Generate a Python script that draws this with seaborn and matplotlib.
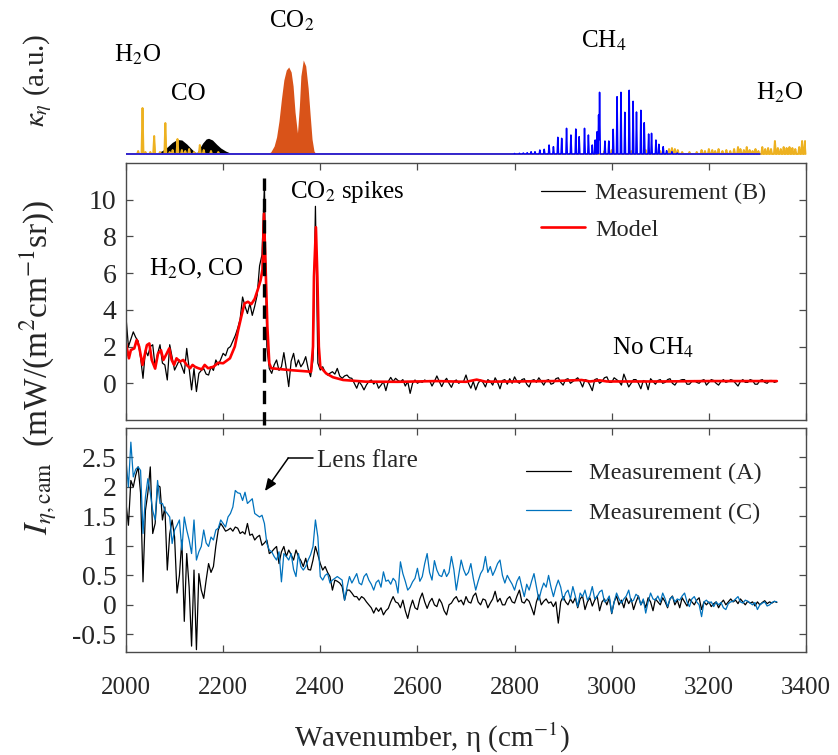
import numpy as np
import matplotlib
matplotlib.use("Agg")
import matplotlib.pyplot as plt
import seaborn as sns

# ---------------- data ----------------
meas_wn = np.arange(2000, 3341, 5)

meas_B = [3.6, 2.0, 2.4, 2.8, 2.5, 2.3, 1.4, 0.27, 1.8, 1.5, 2.0, 2.1, 0.9, 1.6, 2.1, 1.1, 1.0, 0.18, 2.1, 1.4,
          0.72, 1.0, 1.27, 0.9, 0.54, 1.9, 0.8, -0.36, 0.8, -0.45, 0.54, 0.7, 0.8, 0.5, 0.45, 0.9, 0.7, 1.27, 1.0, 1.3,
          1.63, 1.5, 1.9, 2.0, 2.3, 2.6, 3.0, 3.5, 4.7, 4.2, 3.8, 4.35, 3.7, 4.2, 4.8, 6.4, 7.0, 10.8, 2.0, 0.8,
          0.54, 1.0, 1.27, 0.7, 0.9, 1.67, 0.8, -0.18, 1.2, 1.63, 0.9, 1.27, 0.9, 1.1, 1.45, 0.8, 0.36, 1.27, 9.64, 1.1,
          0.72, 0.9, 0.6, 0.45, 0.55, 0.63, 0.5, 0.81, 0.4, 0.27, 0.4, 0.45, 0.3, 0.27, 0.0, -0.27, 0.09, -0.1, -0.36, -0.09,
          0.1, 0.18, -0.04, 0.1, -0.27, -0.1, 0.09, -0.4, 0.1, 0.32, 0.1, 0.27, 0.15, 0.09, 0.2, -0.15, 0.1, -0.55, 0.0, 0.18,
          0.0, 0.09, 0.05, 0.18, 0.1, 0.15, -0.15, 0.1, 0.4, 0.1, -0.18, 0.1, 0.27, 0.0, -0.22, 0.1, 0.18, 0.0, 0.09, 0.1,
          0.45, 0.0, -0.27, 0.1, -0.36, 0.0, 0.18, 0.05, -0.2, 0.2, 0.1, -0.1, 0.3, 0.05, -0.3, 0.15, 0.2, -0.05, 0.25, 0.0,
          0.35, 0.1, 0.0, 0.2, 0.25, -0.05, -0.2, 0.15, 0.2, 0.05, 0.3, 0.1, -0.1, 0.15, 0.2, -0.05, 0.0, 0.25, 0.3, 0.05,
          -0.1, 0.2, 0.25, 0.0, 0.1, 0.2, 0.3, 0.1, -0.2, 0.2, 0.15, -0.1, -0.4, 0.2, 0.25, 0.0, 0.1, 0.3, 0.35, 0.05,
          0.05, 0.3, 0.2, 0.1, -0.1, 0.5, 0.15, -0.2, 0.0, 0.2, 0.2, 0.0, -0.3, 0.15, 0.1, -0.35, 0.25, 0.1, -0.05, 0.15,
          0.2, 0.0, 0.05, 0.2, 0.25, 0.0, -0.1, 0.1, 0.15, 0.2, 0.2, -0.05, -0.05, 0.1, 0.15, 0.05, 0.0, 0.15, 0.2, -0.1,
          0.05, 0.2, 0.15, 0.0, -0.1, 0.1, 0.2, 0.05, 0.1, 0.2, 0.15, 0.0, -0.15, 0.1, 0.2, 0.05, 0.05, 0.2, 0.15, -0.05,
          -0.05, 0.15, 0.2, 0.05, 0.0, 0.15, 0.15, 0.05, 0.1]

meas_A = [1.72, 1.35, 2.11, 2.0, 2.2, 2.34, 1.9, 0.39, 1.6, 1.9, 2.34, 1.21, 1.38, 2.03, 2.0, 1.44, 1.66, 0.59, 1.2, 1.44,
          1.15, 0.2, 0.5, 1.1, -0.28, 0.87, 0.3, -0.7, 0.59, -0.76, 0.53, 0.25, 0.11, 0.42, 0.7, 0.55, 0.65, 1.0, 1.27, 1.38,
          1.32, 1.25, 1.27, 1.3, 1.25, 1.32, 1.3, 1.21, 1.24, 1.2, 1.38, 1.18, 1.2, 1.1, 1.15, 1.18, 1.01, 1.05, 1.1, 0.87,
          0.9, 0.95, 0.99, 0.7, 0.9, 0.99, 0.82, 0.93, 0.85, 0.76, 0.93, 0.82, 0.75, 0.65, 0.79, 0.6, 0.59, 0.76, 0.99, 0.85,
          0.7, 0.59, 0.65, 0.55, 0.48, 0.25, 0.42, 0.4, 0.37, 0.31, 0.08, 0.25, 0.25, 0.2, 0.14, 0.14, 0.08, 0.14, 0.11, 0.05,
          0.0, -0.05, -0.14, -0.05, -0.11, -0.05, -0.17, -0.1, -0.06, 0.05, 0.14, 0.05, 0.03, -0.05, 0.08, -0.1, -0.23, -0.05, 0.08, -0.05,
          -0.08, 0.1, 0.2, 0.05, -0.06, 0.05, 0.11, 0.0, -0.03, 0.1, 0.03, -0.1, -0.17, 0.0, 0.03, 0.1, 0.14, 0.05, 0.08, 0.0,
          0.14, 0.05, 0.03, 0.15, 0.2, 0.05, 0.0, 0.1, 0.08, -0.05, 0.03, 0.1, 0.23, 0.05, 0.11, 0.0, 0.0, 0.1, 0.14, 0.05,
          0.03, 0.15, 0.25, 0.05, 0.03, 0.1, 0.06, -0.05, -0.17, 0.05, 0.17, 0.0, 0.06, 0.1, 0.03, 0.05, -0.03, 0.05, -0.31, 0.05,
          0.14, 0.05, 0.0, 0.1, 0.03, 0.12, -0.05, 0.1, 0.15, -0.08, 0.05, 0.12, -0.02, 0.08, 0.15, -0.1, 0.05, 0.1, 0.0, 0.12,
          -0.15, 0.05, 0.15, 0.0, 0.08, -0.05, 0.12, 0.02, 0.1, -0.08, 0.05, 0.15, 0.0, 0.08, -0.05, 0.12, 0.05, -0.1, 0.1, 0.05,
          0.0, 0.12, 0.05, -0.05, 0.1, 0.15, 0.0, 0.08, -0.05, 0.12, 0.05, -0.02, 0.1, 0.05, 0.0, 0.08, 0.12, -0.08, 0.05, 0.0,
          0.05, -0.03, 0.02, 0.05, -0.05, 0.03, 0.08, 0.0, 0.05, 0.1, 0.05, 0.08, 0.02, 0.1, 0.05, 0.0, 0.06, 0.03, 0.05, -0.02,
          0.05, 0.0, 0.04, 0.07, 0.02, 0.05, 0.03, 0.06, 0.04]

meas_C = [2.45, 2.0, 2.76, 2.17, 2.3, 2.34, 2.28, 1.21, 1.83, 2.14, 1.9, 1.6, 1.44, 2.11, 1.72, 1.72, 1.6, 1.55, 1.49, 1.04,
          1.27, 1.35, 1.44, 0.93, 1.49, 1.27, 1.1, 0.87, 1.44, 0.76, 0.9, 0.99, 1.27, 1.05, 0.99, 1.15, 1.1, 1.27, 1.3, 1.44,
          1.38, 1.32, 1.49, 1.55, 1.66, 1.94, 1.9, 1.89, 1.77, 1.91, 1.72, 1.76, 1.8, 1.55, 1.52, 1.49, 1.52, 1.38, 1.04, 0.93,
          0.9, 0.82, 0.76, 0.9, 0.39, 0.87, 0.82, 0.76, 0.87, 0.6, 0.48, 0.87, 0.65, 0.59, 0.65, 0.76, 0.85, 0.99, 1.44, 1.15,
          0.48, 0.42, 0.5, 0.53, 0.37, 0.42, 0.45, 0.48, 0.45, 0.42, 0.08, 0.3, 0.48, 0.37, 0.45, 0.53, 0.37, 0.34, 0.48, 0.53,
          0.42, 0.35, 0.25, 0.38, 0.42, 0.3, 0.56, 0.4, 0.42, 0.35, 0.45, 0.4, 0.2, 0.73, 0.53, 0.4, 0.25, 0.3, 0.39, 0.45,
          0.62, 0.4, 0.48, 0.7, 0.87, 0.55, 0.42, 0.75, 0.59, 0.5, 0.48, 0.6, 0.48, 0.55, 0.82, 0.6, 0.25, 0.5, 0.76, 0.6,
          0.5, 0.55, 0.7, 0.45, 0.25, 0.4, 0.53, 0.6, 0.82, 0.55, 0.65, 0.5, 0.59, 0.7, 0.76, 0.5, 0.37, 0.5, 0.42, 0.35,
          0.25, 0.4, 0.48, 0.3, 0.14, 0.35, 0.25, 0.4, 0.53, 0.3, 0.08, 0.25, 0.37, 0.3, 0.5, 0.3, 0.14, 0.3, 0.42, 0.3,
          0.08, 0.2, 0.25, 0.1, 0.31, 0.15, -0.03, 0.2, 0.14, 0.25, 0.08, 0.15, 0.31, 0.1, 0.14, 0.22, 0.25, 0.05, 0.08, 0.15,
          -0.14, 0.05, 0.2, 0.1, 0.03, 0.1, 0.15, 0.25, 0.05, 0.08, 0.18, 0.14, 0.0, 0.1, -0.14, 0.05, 0.2, 0.1, 0.08, 0.15,
          0.05, 0.2, 0.1, -0.03, 0.1, 0.14, 0.05, 0.1, 0.08, 0.15, 0.2, 0.05, -0.03, 0.1, 0.14, 0.05, 0.0, -0.2, 0.05, 0.08,
          0.03, 0.05, -0.03, 0.05, 0.0, 0.04, -0.05, -0.08, 0.02, 0.05, 0.06, 0.1, 0.14, 0.05, 0.03, 0.08, 0.06, 0.03, 0.0, 0.04,
          -0.08, 0.0, 0.03, 0.05, -0.02, 0.0, 0.04, 0.06, 0.05]

model_wn = [2000, 2006, 2010, 2017, 2022, 2027, 2034, 2043, 2048, 2053, 2060, 2066, 2072, 2077, 2084,
            2089, 2094, 2099, 2104, 2111, 2118, 2125, 2132, 2137, 2142, 2149, 2156, 2162, 2169, 2180,
            2190, 2200, 2214, 2224, 2231, 2238, 2244, 2251, 2258, 2265, 2272, 2277, 2281, 2284, 2287,
            2291, 2295, 2299, 2337, 2381, 2385, 2387, 2391, 2394, 2397, 2400, 2412, 2426, 2447, 2493,
            2560, 2640, 2700, 2722, 2740, 2800, 2880, 2938, 2955, 2975, 2990, 3100, 3200, 3340]
model_val = [2.17, 1.36, 1.81, 1.9, 2.36, 2.0, 1.0, 2.08, 2.17, 1.27, 0.8, 1.63, 1.8, 1.27, 1.63,
             1.9, 1.27, 1.0, 1.36, 1.18, 1.27, 1.0, 0.82, 1.0, 0.9, 0.82, 0.76, 1.0, 0.82, 0.9,
             1.12, 1.09, 1.36, 2.0, 2.9, 3.7, 4.35, 4.44, 4.31, 4.6, 5.16, 5.6, 6.2, 9.24, 6.7,
             3.1, 1.09, 0.82, 0.72, 0.63, 2.0, 5.8, 8.5, 5.8, 2.0, 0.9, 0.54, 0.33, 0.18, 0.09,
             0.08, 0.12, 0.08, 0.2, 0.09, 0.1, 0.12, 0.18, 0.1, 0.16, 0.1, 0.1, 0.12, 0.12]

# absorption coefficient (a.u.)
co2_wn = [2290, 2298, 2305, 2310, 2315, 2320, 2325, 2330, 2335, 2340, 2344, 2348, 2353, 2357, 2360, 2365, 2370, 2375, 2379, 2383, 2387, 2391]
co2_k = [0, 0.02, 0.08, 0.17, 0.33, 0.55, 0.74, 0.84, 0.87, 0.82, 0.68, 0.42, 0.21, 0.48, 0.78, 0.94, 0.88, 0.66, 0.4, 0.15, 0.03, 0]
co_wn = [2055, 2063, 2075, 2085, 2095, 2105, 2115, 2125, 2135, 2142, 2146, 2150, 2158, 2165, 2170, 2178, 2187, 2195, 2205, 2215, 2222]
co_k = [0, 0.007, 0.035, 0.07, 0.115, 0.145, 0.14, 0.1, 0.05, 0.018, 0.015, 0.045, 0.11, 0.15, 0.157, 0.14, 0.095, 0.06, 0.03, 0.009, 0]
ch4_lines = [2800, 2810, 2818, 2826, 2834, 2842, 2852, 2861, 2871, 2880, 2889, 2897, 2907, 2916, 2926, 2933, 2944, 2952, 2960, 2966, 2970,
             2973, 2975, 2986, 2994, 3003, 3011, 3019, 3027, 3036, 3044, 3051, 3060, 3067, 3076, 3082, 3091, 3097, 3106, 3113, 3124, 3135]
ch4_k = [0.005, 0.007, 0.01, 0.013, 0.023, 0.023, 0.04, 0.047, 0.09, 0.073, 0.167, 0.157, 0.257, 0.19, 0.25, 0.173, 0.257, 0.19, 0.09, 0.14, 0.223,
         0.39, 0.617, 0.13, 0.13, 0.247, 0.573, 0.617, 0.417, 0.637, 0.527, 0.42, 0.437, 0.313, 0.2, 0.207, 0.14, 0.097, 0.073, 0.033, 0.023, 0.01]
h2o_lines = [2025, 2034, 2040, 2050, 2058, 2070, 2081, 2090, 2096, 2106, 2115, 2122, 2130, 2140, 2152, 2160, 2175, 2190,
             2985, 3000, 3040, 3070, 3100, 3118, 3124, 3130, 3136, 3145, 3160, 3175, 3185, 3192, 3200, 3207, 3213, 3220, 3228,
             3236, 3244, 3252, 3260, 3265, 3272, 3278, 3284, 3290, 3296, 3302, 3310, 3316, 3322, 3328, 3336, 3342, 3348, 3354,
             3360, 3366, 3372, 3378, 3386, 3392, 3398, 3403]
h2o_k = [0.03, 0.46, 0.02, 0.02, 0.18, 0.02, 0.31, 0.02, 0.04, 0.15, 0.04, 0.03, 0.05, 0.02, 0.09, 0.04, 0.03, 0.02,
         0.03, 0.04, 0.03, 0.04, 0.03, 0.05, 0.06, 0.05, 0.04, 0.02, 0.02, 0.02, 0.04, 0.03, 0.05, 0.04, 0.03, 0.05, 0.03,
         0.04, 0.03, 0.05, 0.07, 0.05, 0.04, 0.07, 0.04, 0.03, 0.05, 0.03, 0.07, 0.05, 0.06, 0.05, 0.13, 0.06, 0.05, 0.07,
         0.06, 0.07, 0.06, 0.05, 0.07, 0.13, 0.13, 0.12]

co2_edge_wn = 2284
x_ticks = [2000, 2200, 2400, 2600, 2800, 3000, 3200, 3400]
mid_yticks = [0, 2, 4, 6, 8, 10]
bot_yticks = [-0.5, 0, 0.5, 1, 1.5, 2, 2.5]

# ---------------- style ----------------
sns.set_theme(style="ticks")
SERIF = ["Liberation Serif", "DejaVu Serif"]
plt.rcParams["font.family"] = SERIF
plt.rcParams["font.serif"] = SERIF
plt.rcParams["mathtext.fontset"] = "stix"
plt.rcParams["axes.unicode_minus"] = False

W, H = 838, 755
fig = plt.figure(figsize=(W / 100, H / 100), dpi=100)


def rect(left, top, right, bottom):
    return [left / W, 1 - bottom / H, (right - left) / W, (bottom - top) / H]


ax_top = fig.add_axes(rect(126, 8, 806, 156))
ax_mid = fig.add_axes(rect(126, 163, 806, 420))
ax_bot = fig.add_axes(rect(126, 428, 806, 652))

SP = "#4a4a4a"

# ---------------- top panel ----------------
grid = np.arange(2000, 3405.01, 0.25)


def line_profile(xg, centers, heights, hw):
    prof = np.zeros_like(xg)
    for c, h in zip(centers, heights):
        prof = np.maximum(prof, h * np.clip(1 - np.abs(xg - c) / hw, 0, None))
    return prof


h2o_prof = line_profile(grid, h2o_lines, h2o_k, 2.0)
ch4_grid = grid[grid <= 3305]
ch4_prof = line_profile(ch4_grid, ch4_lines, ch4_k, 1.3)

ax_top.fill_between(co2_wn, co2_k, 0, color="#D95319", lw=0)
ax_top.fill_between(co_wn, co_k, 0, color="black", lw=0)
ax_top.fill_between(grid, h2o_prof, 0, color="#EDB120", lw=0)
sns.lineplot(x=grid, y=h2o_prof, ax=ax_top, color="#EDB120", lw=1.4, estimator=None, sort=False)
sns.lineplot(x=ch4_grid, y=ch4_prof, ax=ax_top, color="#0000FF", lw=1.1, estimator=None, sort=False)
ax_top.set_xlim(2000, 3400)
ax_top.set_ylim(-0.02, 1.46)
ax_top.axis("off")

tkw = dict(fontsize=18, ha="center", va="baseline", color="black", family=SERIF)
ax_top.text(2023, 0.92, "H$_2$O", **tkw)
ax_top.text(2128, 0.54, "CO", **tkw)
ax_top.text(2342, 1.26, "CO$_2$", **tkw)
ax_top.text(2984, 1.06, "CH$_4$", **tkw)
ax_top.text(3346, 0.54, "H$_2$O", **tkw)

# ---------------- middle panel ----------------
sns.lineplot(x=meas_wn, y=meas_B, ax=ax_mid, color="black", lw=0.9, estimator=None, label="Measurement (B)")
sns.lineplot(x=model_wn, y=model_val, ax=ax_mid, color="#FF0000", lw=1.9, estimator=None, label="Model")
ax_mid.axvline(co2_edge_wn, ymin=-0.02, ymax=0.942, color="black", lw=2.4, ls=(0, (4, 2.4)), clip_on=False, zorder=5)
ax_mid.set_xlim(2000, 3400)
ax_mid.set_ylim(-2, 12)
ax_mid.set_xticks(x_ticks)
ax_mid.set_yticks(mid_yticks)
ax_mid.set_yticklabels([f"{v:g}" for v in mid_yticks])
ax_mid.tick_params(labelbottom=False)
ax_mid.text(2455, 10.12, "CO$_2$ spikes", **tkw)
ax_mid.text(2144, 5.89, "H$_2$O, CO", **tkw)
ax_mid.text(3085, 1.54, "No CH$_4$", **tkw)
ax_mid.legend(loc="upper left", bbox_to_anchor=(0.61, 0.925), frameon=False,
              prop={"family": SERIF, "size": 17.5},
              handlelength=1.8, handletextpad=0.45, labelspacing=0.6, borderaxespad=0, borderpad=0)

# ---------------- bottom panel ----------------
sns.lineplot(x=meas_wn, y=meas_A, ax=ax_bot, color="black", lw=0.9, estimator=None, label="Measurement (A)")
sns.lineplot(x=meas_wn, y=meas_C, ax=ax_bot, color="#0072BD", lw=0.9, estimator=None, label="Measurement (C)")
ax_bot.set_xlim(2000, 3400)
ax_bot.set_ylim(-0.8, 3.0)
ax_bot.set_xticks(x_ticks)
ax_bot.set_xticklabels([str(v) for v in x_ticks])
ax_bot.set_yticks(bot_yticks)
ax_bot.set_yticklabels([f"{v:g}" for v in bot_yticks])
ax_bot.legend(loc="upper left", bbox_to_anchor=(0.588, 0.848), frameon=False,
              prop={"family": SERIF, "size": 17.5},
              handlelength=1.85, handletextpad=0.75, labelspacing=0.72, borderaxespad=0, borderpad=0)

# lens flare annotation
ax_bot.plot([2334, 2386], [2.49, 2.49], color="black", lw=1.1)
ax_bot.annotate("", xy=(2286, 1.93), xytext=(2334, 2.49),
                arrowprops=dict(arrowstyle="-|>,head_length=0.6,head_width=0.25", color="black", lw=1.1,
                                shrinkA=0, shrinkB=0))
ax_bot.text(2393, 2.33, "Lens flare", fontsize=18, ha="left", va="baseline", family=SERIF)

for ax in (ax_mid, ax_bot):
    ax.set_xlabel("")
    ax.set_ylabel("")
    for s in ax.spines.values():
        s.set_visible(True)
        s.set_color(SP)
        s.set_linewidth(1.0)
    ax.tick_params(direction="in", top=True, right=True, length=5, width=0.9, color=SP,
                   labelfontfamily="Liberation Serif")
    ax.tick_params(axis="y", labelsize=20, pad=7)
    ax.tick_params(axis="x", labelsize=18, pad=18)

fig.text(38 / W, 1 - 368 / H, r"$I_{\eta,\mathrm{cam}}$  (mW/(m$^2$cm$^{-1}$sr))", rotation=90,
         ha="center", va="center", fontsize=24, family=SERIF)
fig.text(38 / W, 1 - 80 / H, r"$\kappa_\eta$ (a.u.)", rotation=90, ha="center", va="center", fontsize=21, family=SERIF)
fig.text(432 / W, 1 - 738 / H, r"Wavenumber, η (cm$^{-1}$)", ha="center", va="center", fontsize=21, family=SERIF)

fig.savefig("out.png", dpi=100)
